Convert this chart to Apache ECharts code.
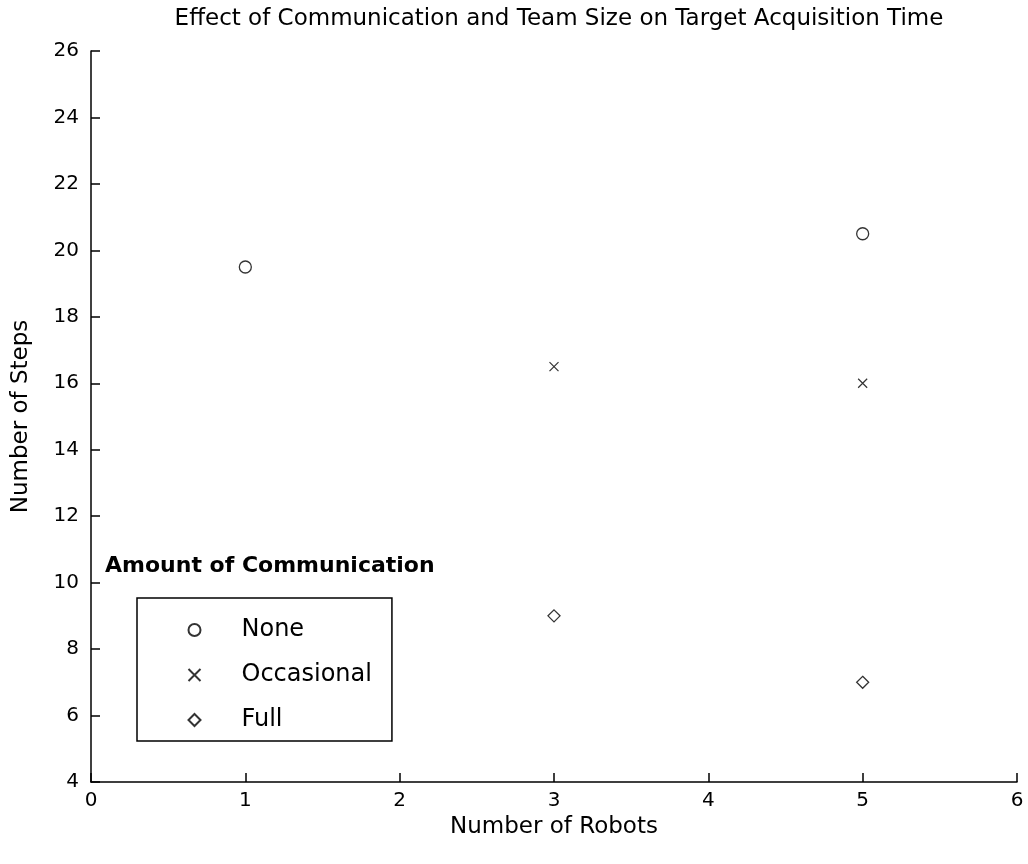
<!DOCTYPE html>
<html><head><meta charset="utf-8">
<script src="https://cdn.jsdelivr.net/npm/echarts@6/dist/echarts.min.js"></script>
<style>html,body{margin:0;padding:0;background:#fff}#c{width:1028px;height:864px}</style>
</head><body><div id="c"></div>
<script>
const seriesNames = ['None', 'Occasional', 'Full'];
const noneData = [[1, 19.5], [5, 20.5]];
const occasionalData = [[3, 16.5], [5, 16]];
const fullData = [[3, 9], [5, 7]];
const xTicks = [0, 1, 2, 3, 4, 5, 6];
const yTicks = [4, 6, 8, 10, 12, 14, 16, 18, 20, 22, 24, 26];

const FONT = 'DejaVu Sans, sans-serif';
const chart = echarts.init(document.getElementById('c'));
const base = { type: 'scatter', itemStyle: { color: '#fff', borderColor: '#000', borderWidth: 1.3 } };
chart.setOption({
  animation: false,
  backgroundColor: '#fff',
  textStyle: { fontFamily: FONT, color: '#000' },
  title: { text: 'Effect of Communication and Team Size on Target Acquisition Time', left: 554, textAlign: 'center', top: 3,
    textStyle: { fontSize: 23, fontWeight: 'normal', color: '#000', fontFamily: FONT } },
  grid: { left: 91, right: 11, top: 51, bottom: 82 },
  xAxis: { type: 'value', min: xTicks[0], max: xTicks[xTicks.length - 1], interval: 1,
    name: 'Number of Robots', nameLocation: 'middle', nameGap: 29,
    nameTextStyle: { fontSize: 23, color: '#000', fontFamily: FONT },
    axisLine: { lineStyle: { color: '#000', width: 1.5 } },
    axisTick: { inside: true, length: 9, lineStyle: { color: '#000', width: 1.5 } },
    axisLabel: { fontSize: 20, color: '#000', margin: 9, fontFamily: FONT },
    splitLine: { show: false } },
  yAxis: { type: 'value', min: yTicks[0], max: yTicks[yTicks.length - 1], interval: 2,
    name: 'Number of Steps', nameLocation: 'middle', nameGap: 58, nameRotate: 90,
    nameTextStyle: { fontSize: 23, color: '#000', fontFamily: FONT },
    axisLine: { lineStyle: { color: '#000', width: 1.5 } },
    axisTick: { inside: true, length: 9, lineStyle: { color: '#000', width: 1.5 } },
    axisLabel: { fontSize: 20, color: '#000', margin: 12, fontFamily: FONT },
    splitLine: { show: false } },
  legend: { orient: 'vertical', left: 137, top: 598, data: seriesNames,
    borderColor: '#000', borderWidth: 1.5, backgroundColor: '#fff',
    padding: [20, 20, 9, 49], itemGap: 21, itemWidth: 12, itemHeight: 12,
    textStyle: { fontSize: 24, color: '#000', padding: [0, 0, 0, 36], lineHeight: 24, fontFamily: FONT } },
  graphic: [{ type: 'text', left: 105, top: 555,
    style: { text: 'Amount of Communication', fontSize: 22, fontWeight: 'bold', fill: '#000', fontFamily: FONT } }],
  series: [
    Object.assign({}, base, { name: seriesNames[0], data: noneData, symbol: 'circle', symbolSize: 12 }),
    Object.assign({}, base, { name: seriesNames[1], data: occasionalData, symbol: 'path://M0,0L10,10M10,0L0,10', symbolSize: 9,
      itemStyle: { color: 'none', borderColor: '#000', borderWidth: 1.2 } }),
    Object.assign({}, base, { name: seriesNames[2], data: fullData, symbol: 'diamond', symbolSize: 12 })
  ]
});
</script></body></html>
